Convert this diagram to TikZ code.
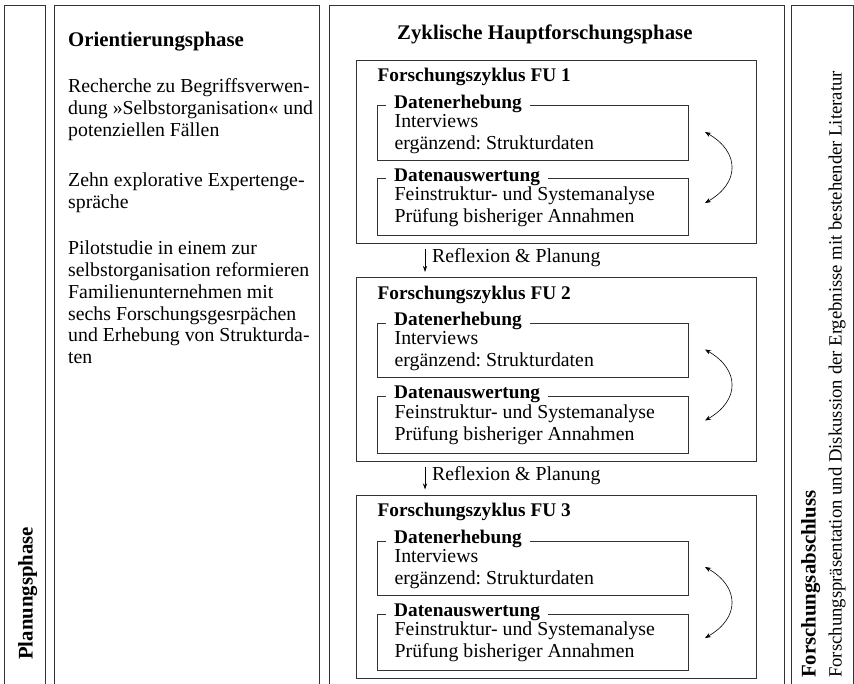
\documentclass[tikz,border=0pt]{standalone}
\usepackage{fontspec}
\setmainfont{Liberation Serif}
\usetikzlibrary{arrows.meta}
\frenchspacing
\begin{document}
\begin{tikzpicture}[x=1pt,y=-1pt,
  frame/.style={draw=black!80, line width=0.9pt},
  boxnode/.style={frame, anchor=north west, inner sep=0pt},
  body/.style={anchor=base west, inner sep=0pt, font=\fontsize{19.8}{21.7}\selectfont},
  bighead/.style={anchor=base west, inner sep=0pt, font=\fontsize{20.8}{24}\selectfont\bfseries},
  subhead/.style={anchor=base west, inner sep=0pt, font=\fontsize{19.3}{22}\selectfont\bfseries},
  legend/.style={anchor=base west, inner xsep=8pt, inner ysep=0pt, fill=white, font=\fontsize{19.3}{22}\selectfont\bfseries},
  cyc/.style={{Stealth[length=6pt,width=4.5pt]}-{Stealth[length=6pt,width=4.5pt]}, line width=0.6pt},
  refl/.style={-{Stealth[length=6pt,width=4pt]}, line width=0.7pt},
  ]
\useasboundingbox (0,0) rectangle (854,684);

% columns (open at the bottom)
\draw[frame] (4,684) -- (4,5) -- (45,5) -- (45,684);
\draw[frame] (54,684) -- (54,5) -- (319,5) -- (319,684);
\draw[frame] (329,684) -- (329,5) -- (784,5) -- (784,684);
\draw[frame] (791,684) -- (791,5) -- (853,5) -- (853,684);

% Planungsphase
\node[bighead, rotate=90] (planung) at (32.5,660) {Planungsphase};

% Orientierungsphase
\node[bighead] (orient) at (68,47) {Orientierungsphase};
\node[body] (p1a) at (68,93) {Recherche zu Begriffsverwen-};
\node[body] (p1b) at (68,114.7) {dung »Selbstorganisation« und};
\node[body] (p1c) at (68,136.4) {potenziellen Fällen};
\node[body] (p2a) at (68,186.7) {Zehn explorative Expertenge-};
\node[body] (p2b) at (68,208.4) {spräche};
\node[body] (p3a) at (68,255) {Pilotstudie in einem zur};
\node[body] (p3b) at (68,276.7) {selbstorganisation reformieren};
\node[body] (p3c) at (68,298.4) {Familienunternehmen mit};
\node[body] (p3d) at (68,320.1) {sechs Forschungsgesrpächen};
\node[body] (p3e) at (68,341.8) {und Erhebung von Strukturda-};
\node[body] (p3f) at (68,363.5) {ten};

% Zyklische Hauptforschungsphase
\node[bighead] (zyk) at (397,39.5) {Zyklische Hauptforschungsphase};

\foreach \i/\t in {1/60, 2/277.5, 3/495} {
  \node[boxnode, minimum width=400pt, minimum height=183pt] (fu\i) at (356,\t) {};
  \node[subhead] (fuh\i) at (377.5,\t+21.7) {Forschungszyklus FU \i};
  \node[boxnode, minimum width=311pt, minimum height=54.5pt] (de\i) at (377,\t+45.5) {};
  \node[legend] (del\i) at (386,\t+48.3) {Datenerhebung};
  \node[body] (dea\i) at (394.5,\t+67.5) {Interviews};
  \node[body] (deb\i) at (394.5,\t+89.3) {ergänzend: Strukturdaten};
  \node[boxnode, minimum width=311pt, minimum height=56.5pt] (da\i) at (377,\t+118.5) {};
  \node[legend] (dal\i) at (386,\t+121.5) {Datenauswertung};
  \node[body] (daa\i) at (394.5,\t+140.8) {Feinstruktur- und Systemanalyse};
  \node[body] (dab\i) at (394.5,\t+162.5) {Prüfung bisheriger Annahmen};
  \coordinate (ca\i) at (705,\t+72);
  \coordinate (cb\i) at (705,\t+143);
  \draw[cyc] (ca\i) .. controls (740,\t+92) and (740,\t+123) .. (cb\i);
}

\foreach \i/\t in {1/60, 2/277.5} {
  \coordinate (rs\i) at (425,\t+189);
  \coordinate (re\i) at (425,\t+212);
  \draw[refl] (rs\i) -- (re\i);
  \node[body] (rt\i) at (432,\t+203) {Reflexion \& Planung};
}

% Forschungsabschluss
\node[bighead, rotate=90] (abschluss) at (815.5,678) {Forschungsabschluss};
\node[body, rotate=90, font=\fontsize{18.7}{21}\selectfont] (abschlusstext) at (841.5,678) {Forschungspräsentation und Diskussion der Ergebnisse mit bestehender Literatur};
\end{tikzpicture}
\end{document}
